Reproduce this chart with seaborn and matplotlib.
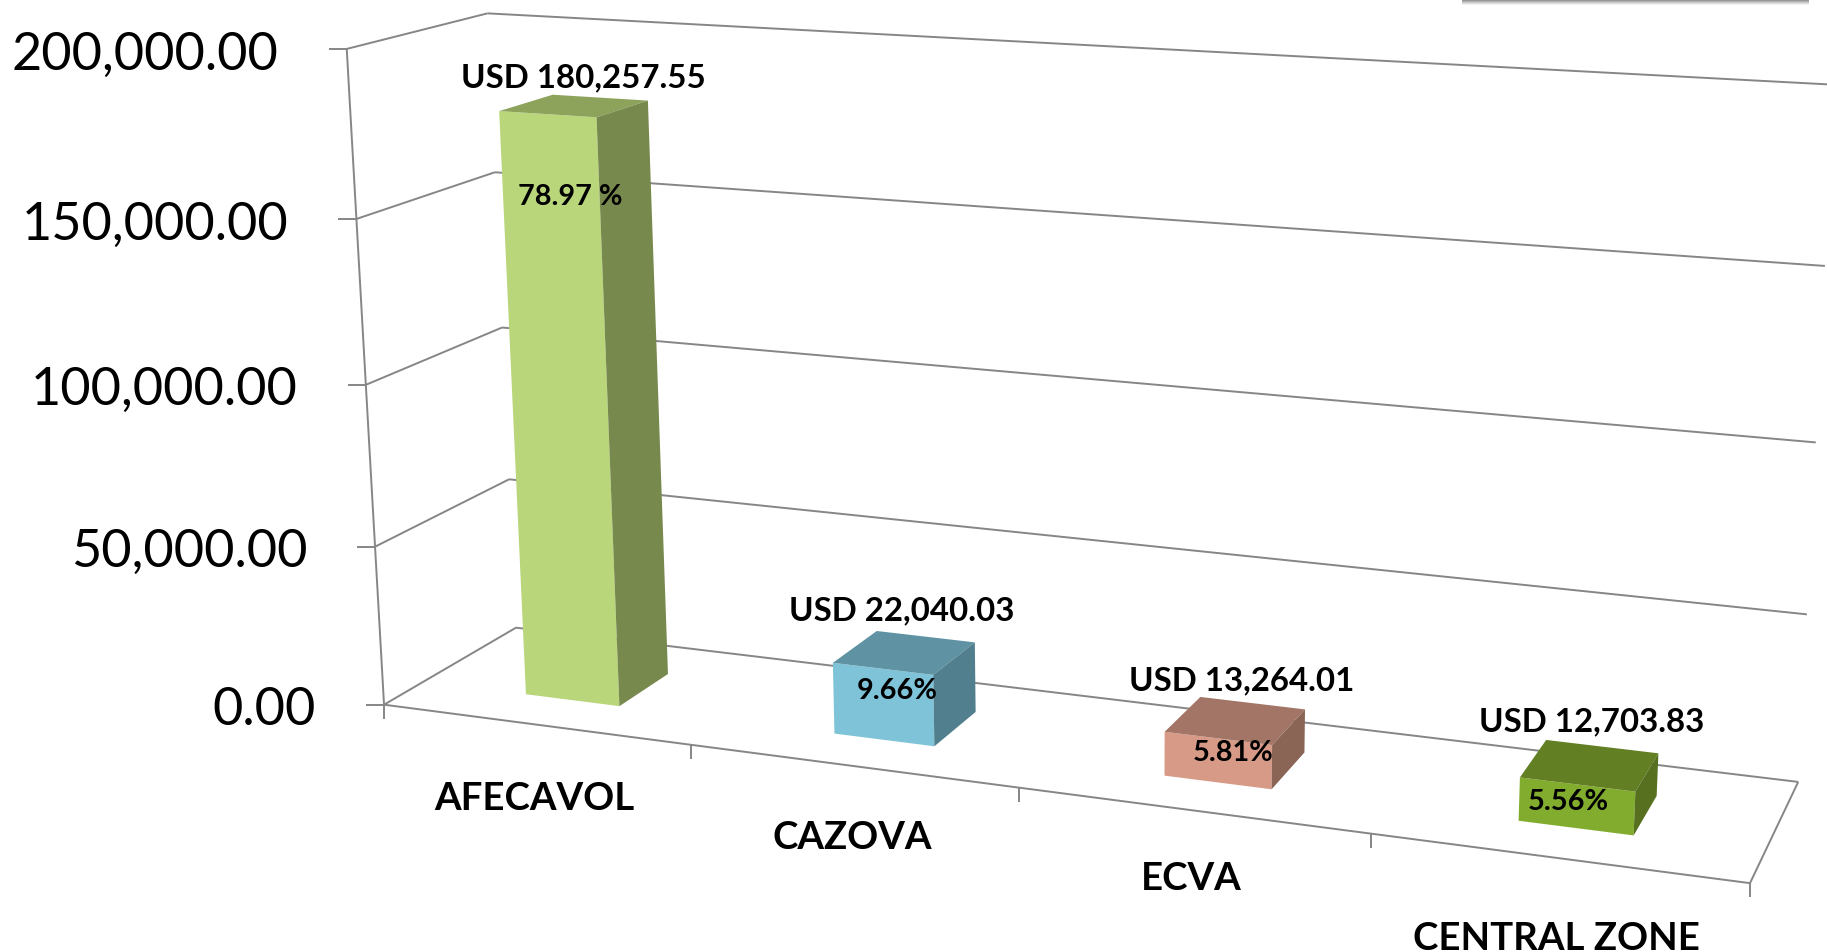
import numpy as np
import matplotlib
matplotlib.use("Agg")
import matplotlib.pyplot as plt
from matplotlib.patches import Polygon, Rectangle
from matplotlib.transforms import Transform
import seaborn as sns

# ---------- data ----------
categories = ["AFECAVOL", "CAZOVA", "ECVA", "CENTRAL ZONE"]
amounts = [180257.55, 22040.03, 13264.01, 12703.83]
amount_labels = ["USD 180,257.55", "USD 22,040.03", "USD 13,264.01", "USD 12,703.83"]
share_labels = ["78.97 %", "9.66%", "5.81%", "5.56%"]
value_ticks = [0, 50000, 100000, 150000, 200000]
value_tick_labels = ["0.00", "50,000.00", "100,000.00", "150,000.00", "200,000.00"]

# ---------- styles ----------
front_colors = ["#B9D67B", "#7FC3D8", "#D69A87", "#82AC2E"]
top_colors = ["#8DA35C", "#5F93A3", "#A27566", "#627F23"]
side_colors = ["#78894E", "#527F8E", "#8A6555", "#567020"]
line_color = "#868686"
W, H = 1827, 953
V_MAX = 200000.0
BAR_W, D0, D1 = 0.31, 0.29, 0.69

# ---------- camera of the 3-D box, calibrated on the box corners (c, v/Vmax, depth) -> pixels ----------
calibration = [
    (0, 0, 0, 384, 705.7), (0, .25, 0, 375, 547.7), (0, .75, 0, 356.7, 220), (0, 1, 0, 346.7, 50),
    (0, 0, 1, 516, 628.7), (0, .25, 1, 509, 480.7), (0, .75, 1, 495.7, 173), (0, 1, 1, 486.7, 14.3),
    (4, 0, 0, 1750, 884), (4, 0, 1, 1798, 782.7), (4, 1, 1, 1834, 85.5), (4, .75, 1, 1825, 267),
    (4, .5, 1, 1816, 444), (4, .25, 1, 1807, 615), (1, 0, 0, 690, 745), (2, 0, 0, 1019, 789),
    (3, 0, 0, 1371, 835),
]
A, b = [], []
for c, v, d, px, py in calibration:
    A.append([c, v, d, 1, 0, 0, 0, 0, -px * c, -px * v, -px * d]); b.append(px)
    A.append([0, 0, 0, 0, c, v, d, 1, -py * c, -py * v, -py * d]); b.append(py)
sol = np.linalg.lstsq(np.array(A, float), np.array(b, float), rcond=None)[0]
P = np.append(sol, 1.0).reshape(3, 4)


def project(c, value, d):
    """World (category position, value, depth) -> pixel coordinates."""
    c, v, d = np.broadcast_arrays(np.asarray(c, float), np.asarray(value, float) / V_MAX, np.asarray(d, float))
    w = np.stack([c, v, d, np.ones_like(c)], axis=-1) @ P.T
    return w[..., :2] / w[..., 2:]


class FaceTransform(Transform):
    """Maps a seaborn bar (category index, value) onto the depth plane d of the 3-D box."""
    input_dims = output_dims = 2
    has_inverse = False

    def __init__(self, d):
        super().__init__()
        self.d = d

    def transform_non_affine(self, values):
        values = np.asarray(values, float)
        return project(values[:, 0] + 0.5, values[:, 1], self.d)


# ---------- figure ----------
sns.set_theme(style="white")
plt.rcParams["font.family"] = ["Lato", "DejaVu Sans"]
fig = plt.figure(figsize=(W / 100, H / 100), dpi=100, facecolor="white")
ax = fig.add_axes([0, 0, 1, 1])
sns.barplot(x=categories, y=amounts, hue=categories, palette=front_colors, width=BAR_W,
            legend=False, ax=ax, saturation=1, linewidth=0, zorder=4)
ax.set_xlim(0, W)
ax.set_ylim(H, 0)
ax.axis("off")

# front faces: seaborn's bars seen through the camera
bars = [p for p in ax.patches]
for bar in bars:
    bar.set_transform(FaceTransform(D0) + ax.transData)
    bar.set_linewidth(0)

# top and side faces
for i, val in enumerate(amounts):
    left, right = i + 0.5 - BAR_W / 2, i + 0.5 + BAR_W / 2
    top = project([left, right, right, left], val, [D0, D0, D1, D1])
    side = project(right, [0, val, val, 0], [D0, D0, D1, D1])
    ax.add_patch(Polygon(top, closed=True, fc=top_colors[i], ec="none", zorder=4))
    ax.add_patch(Polygon(side, closed=True, fc=side_colors[i], ec="none", zorder=4))


def seg(p, q):
    ax.plot([p[0], q[0]], [p[1], q[1]], color=line_color, lw=1.4, zorder=2, solid_capstyle="butt")


n = len(categories)
TICK_Y, TICK_X = 14, 18
# gridlines across side wall and back wall, value ticks and labels
for t, lab in zip(value_ticks, value_tick_labels):
    f, b_l, b_r = project(0, t, 0), project(0, t, 1), project(n, t, 1)
    seg(f, b_l)
    if t > 0:
        seg(b_l, b_r)
    seg(f - [TICK_X, 0], f)
    ax.text(f[0] - 68, f[1] + 5, lab, ha="right", va="center", fontsize=37.5, color="black", zorder=6)

# value axis and floor
seg(project(0, 0, 0), project(0, V_MAX, 0))
seg(project(0, 0, 0), project(n, 0, 0))
seg(project(n, 0, 0), project(n, 0, 1))
seg(project(0, 0, 1), project(n, 0, 1))
for i in range(n + 1):
    p = project(i, 0, 0)
    seg(p, p + [0, TICK_Y])

# text, placed relative to the bars
cat_offset_y = [74, 71, 68, 80]
for i, name in enumerate(categories):
    p = project(i + 0.5, 0, 0)
    ax.text(p[0], p[1] + cat_offset_y[i], name, ha="center", va="center", fontsize=27.6,
            fontweight="bold", color="black", zorder=6)

amount_xy = [(583, 78), (902, 611), (1242, 681), (1592, 722)]
share_xy = [(570, 197), (897, 691), (1233, 753), (1568, 802)]
for i in range(n):
    ax.text(*amount_xy[i], amount_labels[i], ha="center", va="center", fontsize=23.8,
            fontweight="bold", color="black", zorder=6)
    ax.text(*share_xy[i], share_labels[i], ha="center", va="center", fontsize=20.8,
            fontweight="bold", color="black", zorder=6)

# edge of the overlapping box cut off at the top right
for grow, alpha in [(6, .10), (5, .14), (4, .2), (3, .3), (2, .4)]:
    ax.add_patch(Rectangle((1462, -5), 347, 5 + grow, fc="#777777", ec="none", alpha=alpha, zorder=1))

fig.savefig("out.png", dpi=100, facecolor="white")
